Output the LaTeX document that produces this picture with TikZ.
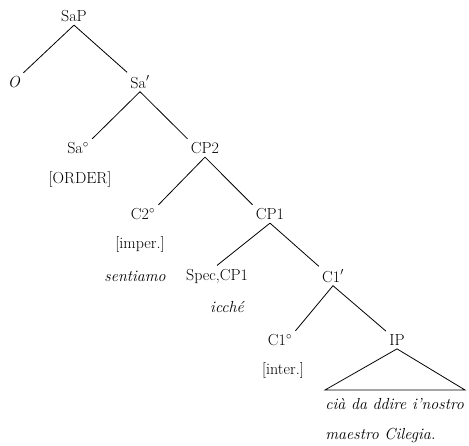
\documentclass[tikz,border=0pt]{standalone}
\usepackage{tikz}
\begin{document}
\begin{tikzpicture}[x=1pt,y=-1pt,line width=0.8pt,
  lab/.style={inner sep=3pt,font=\fontsize{16}{19}\selectfont},
  ilab/.style={inner sep=3pt,font=\fontsize{16}{19}\selectfont\itshape}]
  \useasboundingbox (0,0) rectangle (469,446);
  % the nodes of the tree
  \node[lab] (SaP) at (74,16) {SaP};
  \node[ilab] (O) at (14,82) {O};
  \node[lab] (Sab) at (140,82) {Sa$'$};
  \node[lab] (Sa0) at (78,148) {Sa$^\circ$};
  \node[lab] (order) at (80,180) {[ORDER]};
  \node[lab] (CP2) at (205,148) {CP2};
  \node[lab] (C2) at (143,214) {C2$^\circ$};
  \node[lab] (imper) at (140,245) {[imper.]};
  \node[ilab] (sent) at (135,276) {sentiamo};
  \node[lab] (CP1) at (270,214) {CP1};
  \node[lab] (spec) at (217,276) {Spec,CP1};
  \node[ilab] (icche) at (227,307) {icch\'e};
  \node[lab] (C1b) at (333,276) {C1$'$};
  \node[lab] (C1) at (280,340) {C1$^\circ$};
  \node[lab] (inter) at (283,371) {[inter.]};
  \node[lab] (IP) at (397,340) {IP};
  \coordinate (triL) at (325,390);
  \coordinate (triR) at (465,390);
  \node[ilab,anchor=north west,align=left,inner sep=0pt] (text) at (325,398) {ci\`a da ddire i'nostro\\[11pt]maestro Cilegia.};
  % the branches
  \draw (SaP.south) -- (O.north east);
  \draw (SaP.south) -- (Sab.north west);
  \draw (Sab.south) -- (Sa0.north east);
  \draw (Sab.south) -- (CP2.north west);
  \draw (CP2.south) -- (C2.north east);
  \draw (CP2.south) -- (CP1.north west);
  \draw (CP1.south) -- (spec.north);
  \draw (CP1.south) -- (C1b.north west);
  \draw (C1b.south) -- (C1.north east);
  \draw (C1b.south) -- (IP.north west);
  \draw (IP.south) -- (triL) -- (triR) -- cycle;
\end{tikzpicture}
\end{document}
